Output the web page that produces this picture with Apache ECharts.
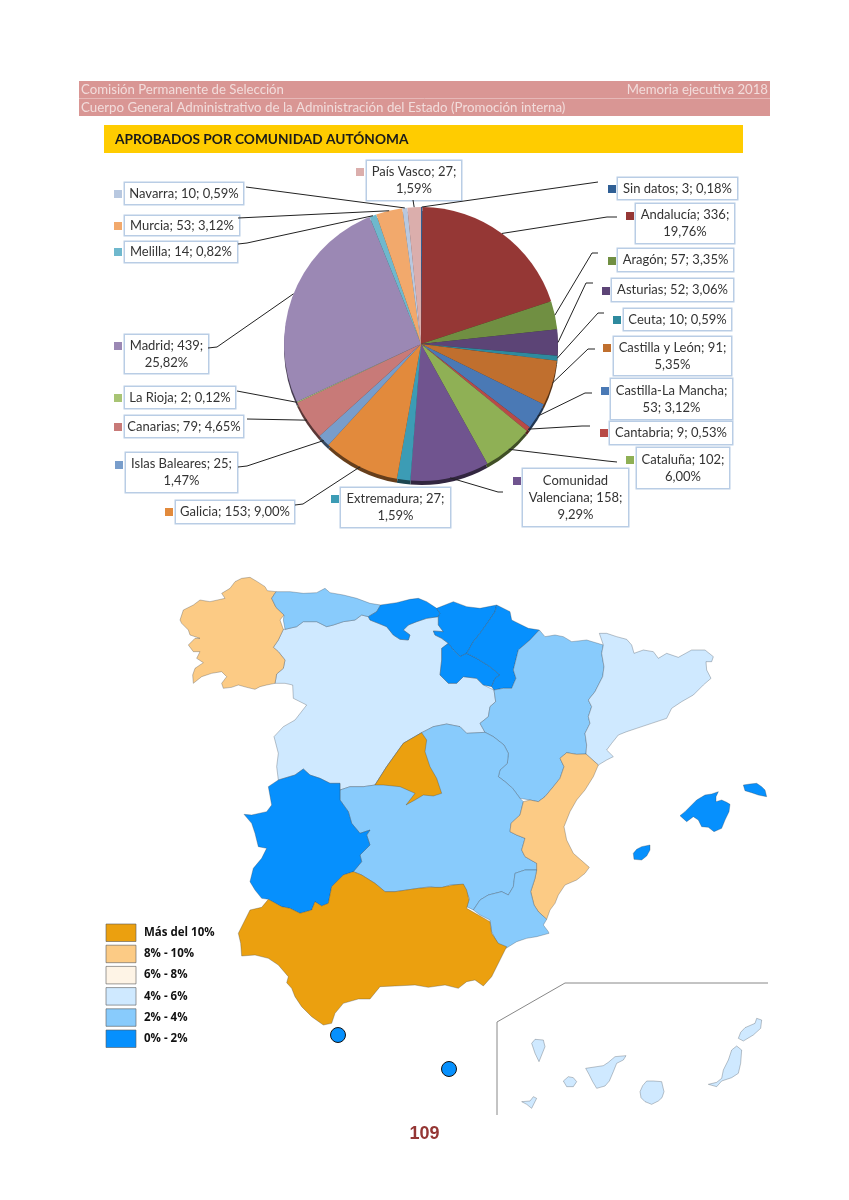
<!DOCTYPE html>
<html><head><meta charset="utf-8">
<style>html,body{margin:0;padding:0;background:#fff}#c{width:849px;height:1200px}</style>
<script src="https://cdn.jsdelivr.net/npm/echarts@6/dist/echarts.min.js"></script>
</head><body><div id="c"></div>
<script>
// ---- data ----
const names=['Sin datos','Andalucía','Aragón','Asturias','Ceuta','Castilla y León','Castilla-La Mancha','Cantabria','Cataluña','Comunidad\nValenciana','Extremadura','Galicia','Islas Baleares','Canarias','La Rioja','Madrid','Melilla','Murcia','Navarra','País Vasco'];
const values=[3,336,57,52,10,91,53,9,102,158,27,153,25,79,2,439,14,53,10,27];
const pcts=['0,18','19,76','3,35','3,06','0,59','5,35','3,12','0,53','6,00','9,29','1,59','9,00','1,47','4,65','0,12','25,82','0,82','3,12','0,59','1,59'];
const breaks=[0,2,0,0,0,2,1,0,2,2,2,0,2,0,0,2,0,0,0,2]; // 0 one line, 1 after name, 2 after value
const colors=['#2f5f95','#953735','#708f42','#5c4476','#2e8a9e','#c06f2e','#4a79b5','#b84a47','#8fb055','#70548f','#3c9cb5','#e28a3c','#789dcb','#c87a78','#a8c474','#9b88b4','#6fb8cd','#f2a96c','#b8c8e0','#dbaeac'];
const legendPieces=[
 {gt:10,label:'Más del 10%',color:'#eba00f'},
 {gt:8,lte:10,label:'8% - 10%',color:'#fccb85'},
 {gt:6,lte:8,label:'6% - 8%',color:'#fef4e6'},
 {gt:4,lte:6,label:'4% - 6%',color:'#cfe9ff'},
 {gt:2,lte:4,label:'2% - 4%',color:'#88cbfc'},
 {gte:0,lte:2,label:'0% - 2%',color:'#0690fd'}];

// ---- layout of the pie's callouts: [x0,y0,x1,y1] box, key square, elbow points ----
const boxes=[[618,178,737,199],[636,204,734,243],[618,249,733,271],[612,279,733,301],[624,309,731,330],[614,337,731,375],[611,379,732,419],[610,422,732,444],[637,448,729,488],[523,469,628,526],[341,488,450,527],[176,501,294,523],[126,453,237,492],[125,416,243,437],[125,387,235,408],[125,335,208,373],[125,242,237,262],[125,216,239,235],[125,183,243,204],[367,161,461,200]];
const keys=[[608,185],[626,212],[608,257],[602,287],[613,316],[603,344],[601,387],[600,429],[626,456],[513,477],[331,495],[165,508],[115,461],[114,423],[114,394],[114,342],[114,248],[114,222],[114,190],[356,168]];
const elbows=[[[598,182]],[[617,217],[607,217]],[[598,253],[592,253]],[[593,283],[586,283]],[[604,313],[598,313]],[[595,349],[588,349]],[[592,393],[585,393]],[[590,426],[582,426]],[[617,462],[607,461]],[[503,492],[498,492]],null,[[295,505],[303,504]],[[238,467],[247,466]],[[247,419]],[[237,391]],[[208,348],[217,347]],[[238,244],[247,243]],[[238,218]],[[246,187]],[[413,200]]];
const pieC=[421,344], pieR=137;

// ---- map geometry, traced in crop coordinates ----
const crop=(ox,oy)=>f=>{const o=[];for(let i=0;i<f.length;i+=2)o.push([ox+f[i]/3,oy+f[i+1]/3]);return o;};
const z4=crop(170,570),z5=crop(430,570),z6=crop(95,800),z7=crop(490,975);
const shape={
 'Castilla y León':[[...z4([345,178,380,170,400,155,440,155,470,170,490,165,520,155,555,150,575,135,595,140,600,150,625,160,650,170,670,195,690,208,715,210,720,195,700,180,715,165,740,155,770,145,805,140,805,165,820,185,790,183,795,195,815,205,835,220,815,235,815,270,810,315,835,340,860,340,880,320,920,325,940,345,972,360,977,395,960,410,955,440,930,460,945,487,890,490,870,470,830,462,790,470,755,488,700,520,650,590,615,645,580,650,540,650,510,660,510,640,480,640,450,625,420,615,400,597,375,615,325,630,320,590,325,550,312,500,340,470,375,450,410,405,370,385,368,345,345,340,315,340,320,312,340,295,345,270,325,245,310,232,325,210,340,178])]],
 'Galicia':[[...z4([215,25,240,22,262,35,285,50,292,62,318,65,305,85,318,112,342,135,330,150,340,178,325,210,310,232,325,245,345,270,340,295,320,312,315,340,290,345,270,350,255,358,230,352,205,345,185,352,160,355,155,340,170,320,155,305,125,310,95,320,70,340,68,315,75,295,100,278,80,265,90,245,70,245,55,225,75,205,90,205,60,195,55,180,35,160,30,150,40,120,70,105,90,90,120,95,165,85,155,70,180,55,195,35])]],
 'Asturias':[[...z4([318,65,360,65,400,70,440,68,465,55,480,68,520,75,560,85,600,100,632,105,620,125,595,140,575,135,555,150,520,155,490,165,470,170,440,155,400,155,380,170,345,178,340,150,342,135,318,112,305,85])]],
 'Cantabria':[[...z4([632,105,680,98,720,88,745,85,770,95,800,115,810,130,805,140,770,145,740,155,715,165,700,180,720,195,715,210,690,208,670,195,650,170,625,160,600,150,595,140,620,125])]],
 'País Vasco':[[...z4([800,115,850,95,890,110,930,115,980,105,975,125,955,155,930,190,910,215,890,250,870,260,850,240,835,220,815,205,795,195,790,183,820,185,805,165,805,140,810,130])]],
 'La Rioja':[[...z4([815,235,835,220,850,240,870,260,890,250,920,265,960,290,990,315,975,325,965,350,940,345,920,325,880,320,860,340,835,340,810,315,815,270])]],
 'Navarra':[[...z5([200,105,240,125,245,150,255,155,295,175,328,180,300,210,265,240,250,300,258,325,245,355,220,355,192,360,185,350,195,325,210,315,180,290,140,265,110,250,130,215,150,190,175,155,195,125])]],
 'Aragón':[[...z5([328,180,345,200,375,195,400,200,425,215,470,210,520,225,515,250,522,290,518,320,495,365,475,390,485,410,475,440,480,460,465,490,470,525,468,552,440,553,410,548,390,565,402,590,390,625,370,650,345,680,325,695,300,690,270,685,248,655,225,635,205,620,210,600,232,580,235,550,222,525,190,500,165,487,150,460,175,440,180,410,197,395,192,360,220,355,245,355,258,325,250,300,265,240,300,210])]],
 'Cataluña':[[...z5([520,225,508,190,530,190,560,200,590,208,605,225,612,250,640,240,670,245,685,265,710,250,745,262,785,240,825,240,850,260,845,275,828,275,830,300,843,325,820,345,790,375,755,395,725,415,710,445,665,460,620,475,590,485,565,495,545,520,530,540,550,560,530,570,505,585,468,552,470,525,465,490,480,460,475,440,485,410,475,390,495,365,518,320,522,290,515,250])]],
 'Castilla-La Mancha':[[...z4([510,690,510,660,540,650,580,650,615,645,650,590,700,520,755,488,790,470,830,462,870,470,890,490,945,487]),...z5([190,500,222,525,235,550,232,580,210,600,205,620,225,635,248,655,270,685,280,695,270,735,243,760,240,785,260,795,285,805,275,840,285,860,320,880,320,900,285,900,255,910,250,950,235,975,215,965,175,975,150,990,130,1020,110,1010,118,985,100,945,60,945,30,955,0,950]),...z6([970,265,935,270,900,275,870,275,840,250,800,225,775,215,800,185,795,165,825,135,815,105,825,90,795,100,770,70,760,35])]],
 'Comunidad\nValenciana':[[...z5([505,585,490,620,465,660,440,690,420,725,402,770,410,810,430,850,478,892,465,910,440,930,405,945,385,975,375,1000,360,1020,350,1048,325,1025,312,1005,302,965,315,925,320,900,320,880,285,860,275,840,285,805,260,795,240,785,243,760,270,735,280,695,300,690,325,695,345,680,370,650,390,625,402,590,390,565,410,548,440,553,468,552])]],
 'Murcia':[[...z5([320,900,315,925,302,965,312,1005,325,1025,350,1048,340,1065,355,1085,357,1090,320,1100,290,1105,260,1115,228,1135,205,1125,185,1085,180,1050,150,1035,130,1020,150,990,175,975,215,965,235,975,250,950,255,910,285,900])]],
 'Extremadura':[[...z4([222,733,245,735,290,725,305,705,295,650,325,630,375,615,400,597,420,615,450,625,480,640,510,640,510,660,510,690]),...z6([760,35,770,70,795,100,825,90,815,105,825,135,795,165,800,185,775,215,745,225,710,260,700,310,680,318,660,305,650,330,615,340,585,325,560,320,520,298,500,295,480,270,465,245,475,205,500,175,515,145,490,140,480,100,470,70])]],
 'Andalucía':[[...z6([775,215,800,225,840,250,870,275,900,275,935,270,970,265,1005,262,1040,262,1075,255,1105,252,1115,270,1122,300,1115,325,1150,345,1185,365,1190,400,1210,430,1235,440,1215,480,1190,530,1165,558,1140,540,1115,545,1090,565,1050,555,1000,562,960,555,900,558,855,560,825,597,790,597,745,610,720,640,710,670,685,675,650,650,620,620,600,590,590,565,575,548,580,530,550,495,520,475,480,465,440,468,437,430,430,400,445,370,465,330,500,322,520,298,560,320,585,325,615,340,650,330,660,305,680,318,700,310,710,260,745,225])]],
 'Madrid':[[...z4([755,488,770,510,765,545,780,590,800,625,815,670,790,678,760,675,735,690,708,705,735,670,690,650,640,645,615,645,650,590,700,520])]],
 'Islas Baleares':[z5([750,737,765,725,785,705,800,690,825,675,845,672,865,665,858,680,858,695,875,690,890,697,900,703,897,725,885,750,875,775,852,785,835,772,815,770,805,750,790,740,770,755]),z5([940,645,960,642,980,640,995,650,1005,660,1010,680,985,675,965,668,945,662]),z5([610,850,620,838,635,830,660,825,660,840,650,858,635,870,612,868])],
 'Canarias':[z7([745,190,752,172,765,158,795,145,800,130,815,135,812,160,790,180,760,198]),z7([655,328,680,322,695,310,700,285,715,255,725,225,740,213,755,225,752,265,745,295,725,308,695,318,680,335]),z7([450,350,458,332,470,318,490,318,515,320,522,350,516,368,505,378,485,388,465,380,453,368]),z7([287,280,340,272,355,262,375,245,408,242,400,255,380,265,370,290,358,318,345,333,320,340,308,320,297,298]),z7([220,318,235,305,250,308,260,320,250,335,230,335]),z7([125,205,135,193,160,195,165,215,155,240,147,260,135,235]),z7([95,380,120,378,130,365,140,370,125,400,110,388])]
};
const enclaves={'Ceuta':[338,1035],'Melilla':[449,1069]};

// ---- build ----
const pctNum=s=>parseFloat(s.replace(',','.'));
const labelOf=i=>{
 const n=names[i],v=values[i],p=pcts[i]+'%';
 return breaks[i]===0?`${n}; ${v}; ${p}`:breaks[i]===1?`${n};\n${v}; ${p}`:`${n}; ${v};\n${p}`;
};
const total=values.reduce((a,b)=>a+b,0);
let acc=0;
const rimPoints=values.map(v=>{const a=(acc+v/2)/total*2*Math.PI;acc+=v;return [pieC[0]+pieR*Math.sin(a),pieC[1]-pieR*Math.cos(a)];});
const pieData=names.map((n,i)=>({name:n,value:values[i],itemStyle:{color:colors[i]},
 label:{formatter:labelOf(i),width:boxes[i][2]-boxes[i][0],height:boxes[i][3]-boxes[i][1]}}));
const rimData=names.map((n,i)=>({name:n,value:values[i],itemStyle:{color:echarts.color.lerp(0.55,[colors[i],'#000000'])}}));

const features=Object.keys(shape).map(n=>({type:'Feature',properties:{name:n},geometry:{type:'MultiPolygon',coordinates:shape[n].map(r=>[[...r,r[0]]])}}));
echarts.registerMap('es',{type:'FeatureCollection',features});
let xs=[],ys=[];Object.values(shape).forEach(m=>m.forEach(r=>r.forEach(p=>{xs.push(p[0]);ys.push(p[1]);})));
const mnx=Math.min(...xs),mxx=Math.max(...xs),mny=Math.min(...ys),mxy=Math.max(...ys);

const g=[];
const T=(x,y,text,st)=>g.push({type:'text',x,y,silent:true,style:Object.assign({text,fontFamily:'Lato',verticalAlign:'middle'},st)});
g.push({type:'rect',shape:{x:79,y:81,width:691,height:35},style:{fill:'#d99694'},silent:true});
g.push({type:'line',shape:{x1:79,y1:98.5,x2:770,y2:98.5},style:{stroke:'#e6b9b8',lineWidth:1},silent:true});
g.push({type:'rect',shape:{x:104,y:125,width:639,height:28},style:{fill:'#ffcc00'},silent:true});
T(81,90,'Comisión Permanente de Selección',{fill:'#f2dcdb',fontSize:13.2});
T(768,90,'Memoria ejecutiva 2018',{fill:'#f2dcdb',fontSize:13.2,align:'right'});
T(81,107.5,'Cuerpo General Administrativo de la Administración del Estado (Promoción interna)',{fill:'#f2dcdb',fontSize:13.3});
T(115,140,'APROBADOS POR COMUNIDAD AUTÓNOMA',{fill:'#1a1a1a',fontSize:13.7,fontWeight:'bold'});
T(424.5,1134,'109',{fill:'#953735',fontSize:18,fontWeight:'bold',fontFamily:'Liberation Sans',align:'center'});
// leader lines and key squares of the pie
elbows.forEach((e,i)=>{ if(e) g.push({type:'polyline',silent:true,z:3,shape:{points:[...e,rimPoints[i]]},style:{fill:null,stroke:'#222',lineWidth:1}}); });
keys.forEach((k,i)=>g.push({type:'rect',silent:true,shape:{x:k[0],y:k[1],width:8,height:8},style:{fill:colors[i]}}));
// inset frame of the Canary Islands
g.push({type:'polyline',silent:true,shape:{points:[[497,1115],[497,1022],[565,983],[768,983]]},style:{fill:null,stroke:'#888',lineWidth:1}});
// outlines of the legend swatches
legendPieces.forEach((p,i)=>g.push({type:'rect',silent:true,z:10,shape:{x:106,y:924+i*21.2,width:30,height:17.5},style:{fill:null,stroke:'rgba(90,90,90,0.6)',lineWidth:1}}));

const chart=echarts.init(document.getElementById('c'),null,{renderer:'canvas',width:849,height:1200});
chart.setOption({
 animation:false,backgroundColor:'#fff',
 graphic:{elements:g},
 tooltip:{show:false},
 geo:{map:'es',projection:{project:p=>p,unproject:p=>p},left:mnx,top:mny,width:mxx-mnx,height:mxy-mny,roam:false,silent:true,
  itemStyle:{borderColor:'rgba(50,60,70,0.6)',borderWidth:0.5,areaColor:'#fff'},emphasis:{disabled:true},select:{disabled:true}},
 visualMap:{type:'piecewise',seriesIndex:[2,3],pieces:legendPieces,left:106,top:924,padding:0,orient:'vertical',itemWidth:30,itemHeight:17.5,itemGap:3.7,itemSymbol:'rect',textGap:8,selectedMode:false,hoverLink:false,
  textStyle:{fontFamily:'Open Sans',fontWeight:'bold',fontSize:11.5,color:'#111'}},
 series:[
  {type:'pie',silent:true,center:[pieC[0],pieC[1]+4],radius:pieR,startAngle:90,clockwise:true,label:{show:false},labelLine:{show:false},data:rimData,z:1},
  {type:'pie',silent:true,center:pieC,radius:pieR,startAngle:90,clockwise:true,avoidLabelOverlap:false,z:2,
   data:pieData,
   label:{show:true,position:'outside',fontFamily:'Lato',fontSize:13,lineHeight:17,color:'#333',align:'center',verticalAlign:'middle',backgroundColor:'#fff',borderColor:'#b9cde5',borderWidth:1.5},
   labelLine:{show:false},
   labelLayout:p=>{const b=boxes[p.dataIndex];return {x:(b[0]+b[2])/2,y:(b[1]+b[3])/2,align:'center',verticalAlign:'middle',hideOverlap:false};}},
  {type:'map',geoIndex:0,silent:true,data:Object.keys(shape).map(n=>({name:n,value:pctNum(pcts[names.indexOf(n)])}))},
  {type:'scatter',coordinateSystem:'geo',silent:true,symbol:'circle',symbolSize:15,itemStyle:{borderColor:'#111',borderWidth:1,opacity:1},z:5,
   data:Object.keys(enclaves).map(n=>({name:n,value:[...enclaves[n],pctNum(pcts[names.indexOf(n)])]}))}
 ]
});
</script></body></html>
